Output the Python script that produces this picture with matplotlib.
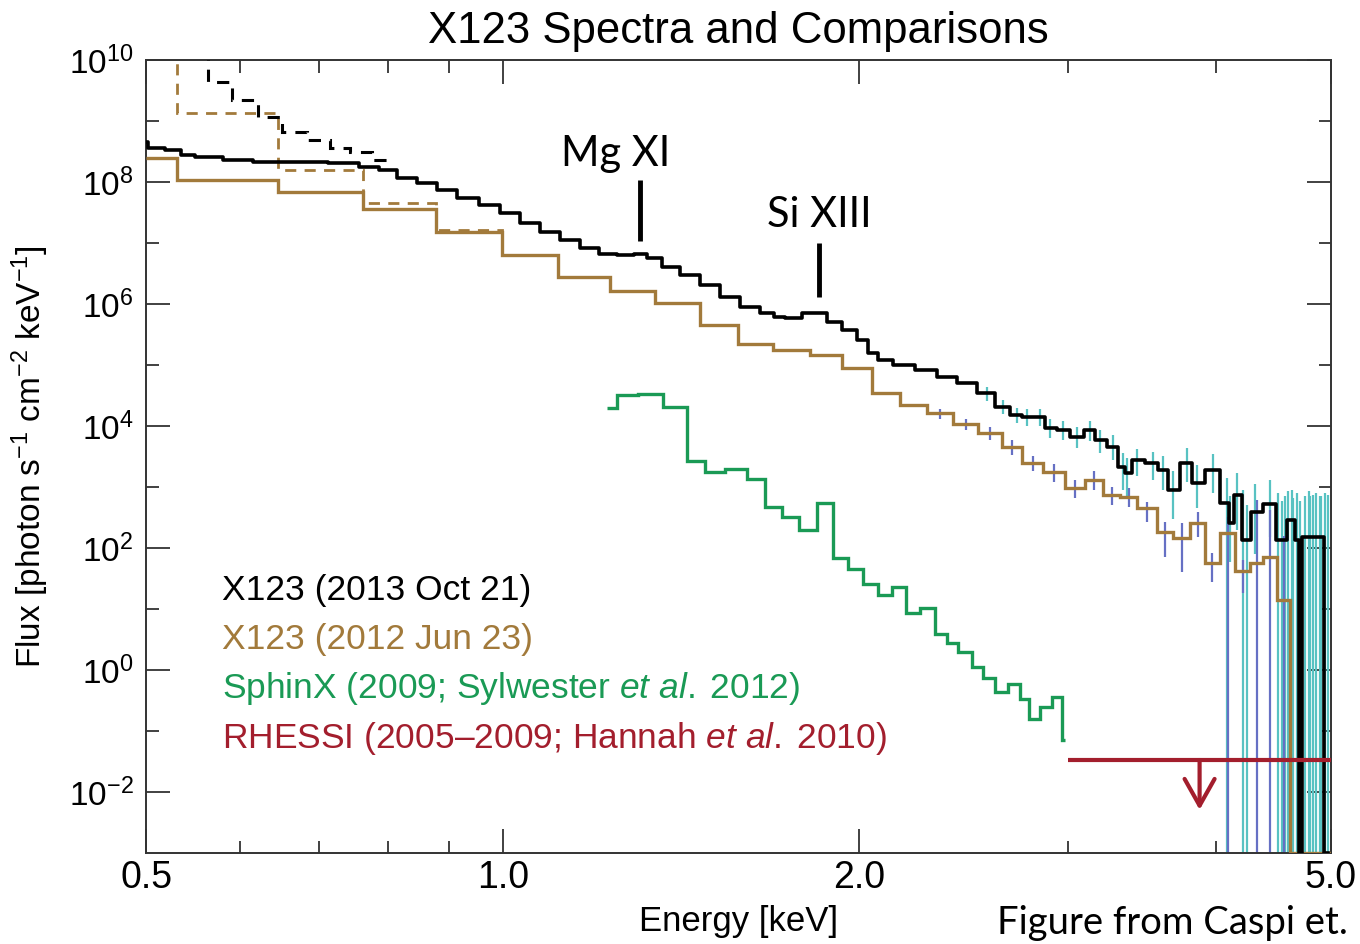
import matplotlib
matplotlib.use('Agg')
import matplotlib.pyplot as plt
import numpy as np
from matplotlib import rcParams, font_manager
from matplotlib.ticker import FixedLocator, FixedFormatter, FuncFormatter, NullFormatter

FLOOR = 1e-3  # empty bins are pinned to the bottom of the plot

# X123 2013 Oct 21, fine bins (bin centre energy [keV], flux)
x13_e = [0.500, 0.504, 0.534, 0.536, 0.564, 0.597, 0.633, 0.684, 0.739, 0.773,
         0.798, 0.830, 0.863, 0.897, 0.933, 0.976, 1.014, 1.055, 1.097, 1.140,
         1.185, 1.225, 1.273, 1.306, 1.339, 1.384, 1.439, 1.496, 1.555, 1.617,
         1.681, 1.704, 1.758, 1.817, 1.853, 1.900, 1.963, 2.014, 2.054, 2.094,
         2.177, 2.280, 2.371, 2.465, 2.562, 2.644, 2.716, 2.770, 2.840, 2.896,
         2.970, 3.052, 3.130, 3.192, 3.273, 3.338, 3.364, 3.430, 3.538, 3.607,
         3.679, 3.780, 3.854, 3.975, 4.085, 4.109, 4.165, 4.247, 4.314, 4.441,
         4.546, 4.636, 4.690, 4.712, 4.735, 4.800, 4.894, 4.975]
x13_f = [4.6e8, 3.6e8, 3.35e8, 2.77e8, 2.57e8, 2.29e8, 2.13e8, 2.10e8, 2.03e8, 1.78e8,
         1.57e8, 1.16e8, 9.6e7, 7.4e7, 5.5e7, 4.2e7, 3.1e7, 2.13e7, 1.53e7, 1.12e7,
         8.3e6, 6.6e6, 6.4e6, 6.6e6, 5.7e6, 4.1e6, 3.0e6, 2.05e6, 1.32e6, 9.0e5,
         7.0e5, 6.2e5, 5.8e5, 7.2e5, 7.0e5, 5.1e5, 3.75e5, 2.57e5, 1.57e5, 1.21e5,
         1.0e5, 8.3e4, 6.4e4, 5.0e4, 3.44e4, 2.07e4, 1.51e4, 1.42e4, 1.42e4, 9.2e3,
         8.6e3, 6.7e3, 8.6e3, 5.9e3, 4.6e3, 2.15e3, 1.70e3, 2.77e3, 2.45e3, 1.90e3,
         8.9e2, 2.47e3, 1.16e3, 1.90e3, 5.5e2, 2.57e2, 7.4e2, 1.35e2, 3.9e2, 5.3e2,
         1.35e2, 2.9e2, 1.35e2, FLOOR, 1.5e2, 1.5e2, 1.5e2, FLOOR]

# uncorrected 2013 spectrum at low energy (bin edges, flux)
x13_raw_edges = [0.536, 0.564, 0.591, 0.622, 0.651, 0.684, 0.715, 0.743, 0.775, 0.798]
x13_raw_f = [3e10, 4.36e9, 2.21e9, 1.16e9, 6.6e8, 4.9e8, 3.6e8, 3.1e8, 2.3e8]

# 1-sigma ranges on the 2013 spectrum
x13_err_e = [2.562, 2.644, 2.716, 2.770, 2.840, 2.896, 2.970, 3.052, 3.130, 3.192,
             3.273, 3.338, 3.364, 3.430, 3.538, 3.607, 3.679, 3.780, 3.854, 3.975,
             4.085, 4.109, 4.165, 4.247, 4.314, 4.441, 4.546, 4.636, 4.708, 4.800, 4.894]
x13_err_lo = [2.6e4, 1.6e4, 1.1e4, 1.0e4, 1.0e4, 6.3e3, 5.8e3, 4.4e3, 5.6e3, 3.6e3,
              2.8e3, 900, 700, 1.5e3, 1.3e3, 900, 300, 1.2e3, 450, 800,
              FLOOR, 60, 200, FLOOR, 80, 150, FLOOR, FLOOR, FLOOR, FLOOR, FLOOR]
x13_err_hi = [4.4e4, 2.7e4, 2.0e4, 1.9e4, 1.9e4, 1.3e4, 1.2e4, 9.8e3, 1.2e4, 8.5e3,
              7.0e3, 3.6e3, 3.0e3, 4.2e3, 3.8e3, 3.2e3, 1.8e3, 4.3e3, 2.3e3, 3.5e3,
              1.4e3, 700, 1.7e3, 500, 1.1e3, 1.3e3, 600, 900, 600, 700, 700]
# extra fine bins near 5 keV whose lower error reaches zero
x13_tail_e = [4.213, 4.512, 4.574, 4.600, 4.645, 4.681, 4.754, 4.790, 4.828, 4.860,
              4.904, 4.940, 4.970]
x13_tail_hi = [900, 800, 700, 850, 650, 800, 700, 850, 750, 800, 700, 800, 750]

# X123 2012 Jun 23 (bin edges, flux)
x12_edges = [0.500, 0.531, 0.646, 0.762, 0.879, 0.999, 1.113, 1.232, 1.345, 1.467,
             1.580, 1.691, 1.817, 1.933, 2.050, 2.164, 2.280, 2.399, 2.518, 2.639,
             2.743, 2.858, 2.983, 3.100, 3.211, 3.320, 3.430, 3.566, 3.679, 3.802,
             3.914, 4.030, 4.150, 4.272, 4.382, 4.503, 4.618, 5.0]
x12_f = [2.47e8, 1.08e8, 6.9e7, 3.6e7, 1.51e7, 6.4e6, 2.74e6, 1.65e6, 1.03e6, 4.5e5,
         2.21e5, 1.76e5, 1.46e5, 8.8e4, 3.5e4, 2.21e4, 1.61e4, 1.08e4, 7.6e3, 4.6e3,
         2.45e3, 1.78e3, 9.5e2, 1.30e3, 7.4e2, 6.9e2, 4.5e2, 1.85e2, 1.44e2, 2.54e2,
         57, 1.74e2, 42, 57, 71, 14, FLOOR]
x12_raw_edges = [0.500, 0.531, 0.646, 0.762, 0.879, 0.999, 1.113]
x12_raw_f = [5e10, 1.35e9, 1.57e8, 4.5e7, 1.63e7, 6.4e6]

x12_err_e = [2.339, 2.458, 2.578, 2.690, 2.800, 2.920, 3.040, 3.155, 3.265, 3.375,
             3.500, 3.620, 3.740, 3.860, 3.970, 4.090, 4.210, 4.330, 4.440, 4.560]
x12_err_lo = [1.3e4, 8.5e3, 5.8e3, 3.3e3, 1.8e3, 1.2e3, 650, 900, 500, 470,
              270, 71, 40, 150, 28, FLOOR, 18, FLOOR, FLOOR, FLOOR]
x12_err_hi = [1.9e4, 1.3e4, 9.5e3, 6.0e3, 3.2e3, 2.4e3, 1.3e3, 1.8e3, 1.0e3, 950,
              560, 270, 257, 390, 83, 320, 63, 610, 420, 160]

# SphinX 2009 (Sylwester et al. 2012)
sphinx_edges = [1.224, 1.248, 1.301, 1.366, 1.430, 1.481, 1.540, 1.607, 1.663, 1.720,
                1.779, 1.841, 1.901, 1.954, 2.015, 2.075, 2.130, 2.190, 2.250, 2.316,
                2.370, 2.424, 2.488, 2.544, 2.603, 2.671, 2.733, 2.782, 2.840, 2.906,
                2.963, 2.983]
sphinx_f = [1.95e4, 3.2e4, 3.4e4, 2.03e4, 2.67e3, 1.78e3, 1.95e3, 1.35e3, 4.75e2, 3.2e2,
            1.97e2, 5.4e2, 68, 46, 26, 17, 22.7, 8.7, 10.3, 3.9,
            2.74, 2.0, 1.13, 0.73, 0.44, 0.59, 0.34, 0.156, 0.25, 0.36, 0.071]

# RHESSI upper limit (Hannah et al. 2010)
rhessi_e = [3.0, 5.0]
rhessi_limit = 0.0335
rhessi_arrow_to = 0.0051

# line identifications
lines_e = [1.306, 1.850]
lines_lo = [1.1e7, 1.3e6]
lines_hi = [1.07e8, 1.0e7]
lines_name = ['Mg XI', 'Si XIII']
lines_text_e = [1.245, 1.850]
lines_text_y = [2.9e8, 2.9e7]

C_BLACK = 'black'
C_BROWN = '#a27a3b'
C_GREEN = '#1a9a55'
C_RED = '#a31e2d'
C_CYAN = '#58c2c2'
C_BLUE = '#6670c4'

names = {f.name for f in font_manager.fontManager.ttflist}
narrow = 'Liberation Sans Narrow' if 'Liberation Sans Narrow' in names else 'Liberation Sans'
rcParams['font.family'] = ['Liberation Sans', 'DejaVu Sans']
rcParams['mathtext.fontset'] = 'custom'
rcParams['mathtext.rm'] = narrow
rcParams['mathtext.it'] = narrow + ':italic'
rcParams['mathtext.default'] = 'regular'

fig = plt.figure(figsize=(13.6, 9.44), dpi=100)
ax = fig.add_axes([0.1074, 0.0964, 0.8713, 0.840])
ax.set_xscale('log')
ax.set_yscale('log')
ax.set_xlim(0.5, 5.0)
ax.set_ylim(1e-3, 1e10)

# error bars first so the spectra sit on top
ax.vlines(x13_tail_e, FLOOR, x13_tail_hi, color=C_CYAN, lw=1.6, zorder=2)
ax.vlines(x13_err_e, x13_err_lo, x13_err_hi, color=C_CYAN, lw=1.6, zorder=2)
ax.vlines(x12_err_e, x12_err_lo, x12_err_hi, color=C_BLUE, lw=1.6, zorder=2)

ax.stairs(x12_raw_f, x12_raw_edges, baseline=None, color=C_BROWN, lw=2.0,
          linestyle=(0, (4, 3)), zorder=3)
ax.stairs(x13_raw_f, x13_raw_edges, baseline=None, color=C_BLACK, lw=2.2,
          linestyle=(0, (4, 3)), zorder=3)
ax.stairs(x12_f, x12_edges, baseline=None, color=C_BROWN, lw=2.4, zorder=4)
ax.step(x13_e, x13_f, where='mid', color=C_BLACK, lw=2.6, zorder=5)
ax.stairs(sphinx_f, sphinx_edges, baseline=None, color=C_GREEN, lw=2.4, zorder=4)

ax.hlines(rhessi_limit, rhessi_e[0], rhessi_e[1], color=C_RED, lw=3, zorder=6)
e_mid = np.sqrt(rhessi_e[0] * rhessi_e[1])
ax.annotate('', xy=(e_mid, rhessi_arrow_to), xytext=(e_mid, rhessi_limit),
            arrowprops=dict(arrowstyle='->, head_length=0.8, head_width=0.45',
                            color=C_RED, lw=3, shrinkA=0, shrinkB=0,
                            mutation_scale=24), zorder=6)

# Mg XI / Si XIII markers
ax.vlines(lines_e, lines_lo, lines_hi, color='black', lw=3.5, zorder=6)
for te, name, ty in zip(lines_text_e, lines_name, lines_text_y):
    ax.text(te, ty, name, ha='center', va='center', fontsize=30,
            family=['Lato', 'Open Sans'])

# axes styling
ax.xaxis.set_major_locator(FixedLocator([0.5, 1.0, 2.0, 5.0]))
ax.xaxis.set_major_formatter(FixedFormatter(['0.5', '1.0', '2.0', '5.0']))
ax.xaxis.set_minor_locator(FixedLocator([0.6, 0.7, 0.8, 0.9, 3.0, 4.0]))
ax.xaxis.set_minor_formatter(NullFormatter())
ax.yaxis.set_major_locator(FixedLocator(10.0 ** np.arange(-2, 11, 2)))
ax.yaxis.set_major_formatter(FuncFormatter(lambda v, p: r'$10^{%d}$' % round(np.log10(v))))
ax.yaxis.set_minor_locator(FixedLocator(10.0 ** np.arange(-1, 10, 2)))
ax.yaxis.set_minor_formatter(NullFormatter())
ax.tick_params(which='both', direction='in', top=True, right=True, width=1.3,
               color='#333333')
ax.tick_params(which='major', length=17)
ax.tick_params(which='minor', length=9)
ax.tick_params(axis='x', pad=5, labelsize=27)
ax.tick_params(axis='y', pad=9, labelsize=24)
for s in ax.spines.values():
    s.set_linewidth(1.4)
    s.set_color('#333333')

ax.set_xlabel('Energy [keV]', fontsize=25)
ax.xaxis.set_label_coords(0.5, -0.066)
ax.set_ylabel(r'Flux [photon s$^{-1}$ cm$^{-2}$ keV$^{-1}$]', fontsize=24)
ax.yaxis.set_label_coords(-0.080, 0.5)
ax.set_title('X123 Spectra and Comparisons', fontsize=31.5, pad=12)

# legend written as coloured text
legend_rows = [('X123 (2013 Oct 21)', C_BLACK),
               ('X123 (2012 Jun 23)', C_BROWN),
               (r'SphinX (2009; Sylwester $\mathit{et\ al.}\;$2012)', C_GREEN),
               (r'RHESSI (2005–2009; Hannah $\mathit{et\ al.}\;$2010)', C_RED)]
for i, (txt, col) in enumerate(legend_rows):
    ax.text(0.064, 0.319 - i * 0.062, txt, transform=ax.transAxes, color=col,
            fontsize=25.5, family=narrow, va='baseline', ha='left')

fig.text(0.733, 0.011, 'Figure from Caspi et.', fontsize=27.5,
         family=['Lato', 'Open Sans'], ha='left', va='baseline')

fig.savefig('out.png', dpi=100)
